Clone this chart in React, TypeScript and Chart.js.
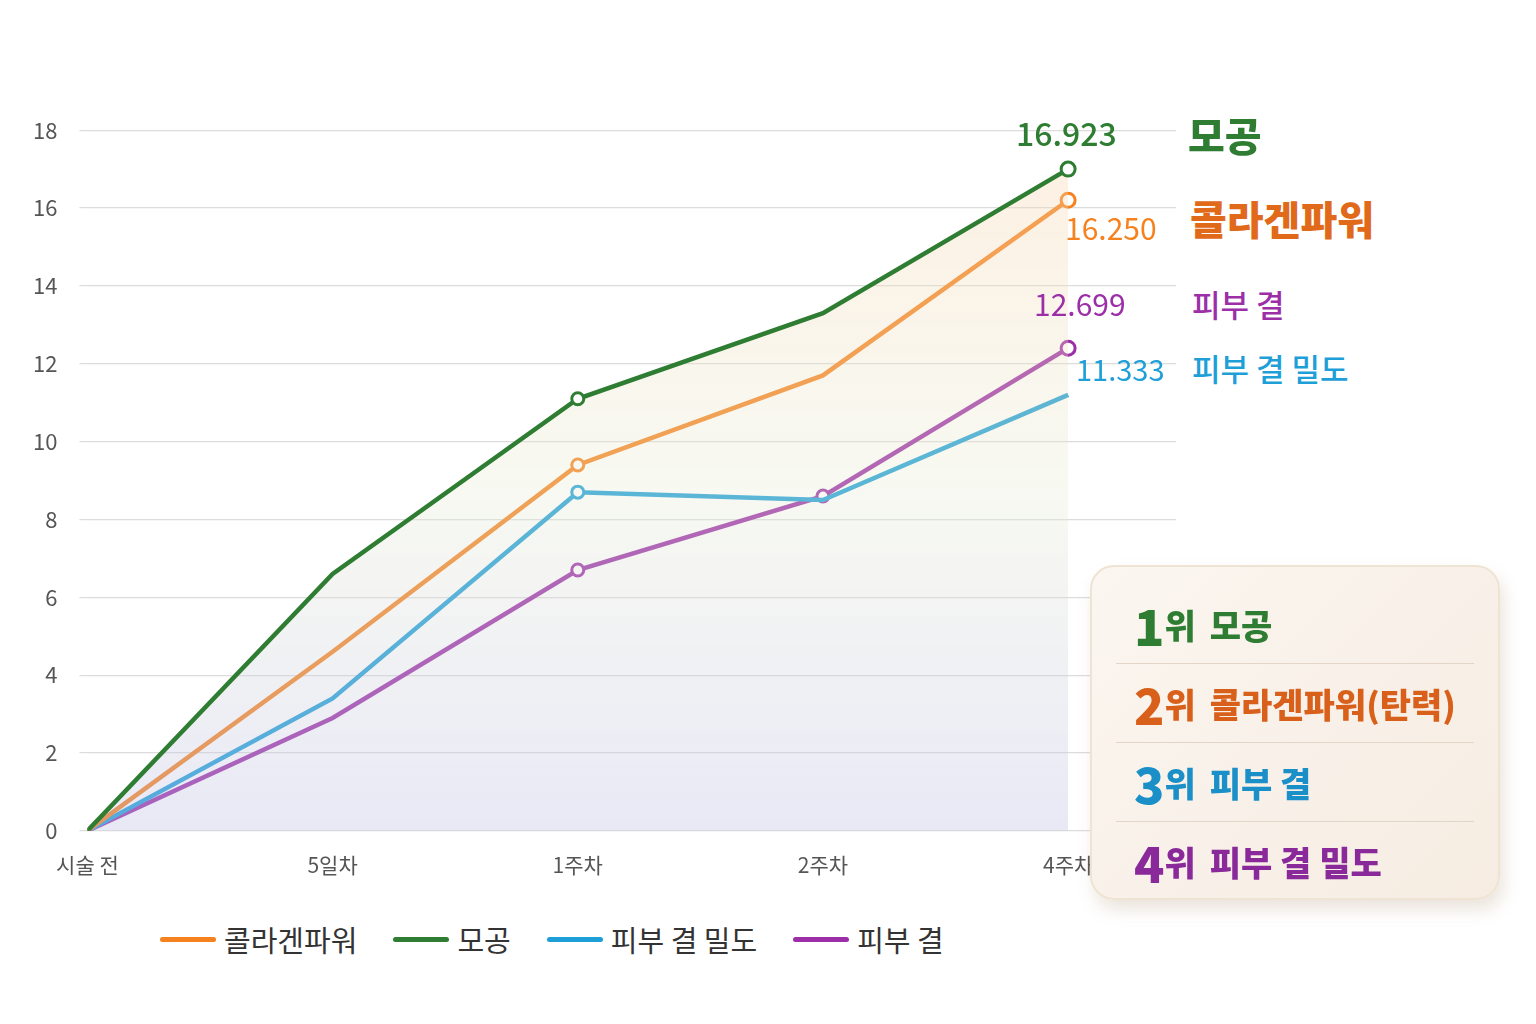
import React, { useEffect, useRef } from "react";
import { Chart, registerables } from "chart.js";
Chart.register(...registerables);

const categories = ["시술 전", "5일차", "1주차", "2주차", "4주차"];
const pore = [0, 6.6, 11.1, 13.3, 17.0];
const collagen = [0, 4.6, 9.4, 11.7, 16.2];
const density = [0, 3.4, 8.7, 8.5, 11.2];
const texture = [0, 2.9, 6.7, 8.6, 12.4];
const yTicks = [0, 2, 4, 6, 8, 10, 12, 14, 16, 18];

const GREEN = "#2e7d32", ORANGE = "#f5821f", BLUE = "#1e9fd8", PURPLE = "#9c2fa8";
const font = "'Noto Sans CJK KR', 'Noto Sans', sans-serif";

export default function App() {
  const ref = useRef<HTMLCanvasElement>(null);
  useEffect(() => {
    const ctx = ref.current!.getContext("2d")!;
    const ds = (label: string, data: number[], color: string, radius: number[], fill: any = false, bg: any = "transparent") => ({
      label, data: data.map((y, i) => ({ x: i, y })), borderColor: color, borderWidth: 4.5,
      pointRadius: radius, pointBackgroundColor: "#fff", pointBorderColor: color, pointBorderWidth: 3,
      fill, backgroundColor: bg, tension: 0,
    });
    const grad = ctx.createLinearGradient(0, 40, 0, 740);
    grad.addColorStop(0, "rgba(250,210,170,0.35)");
    grad.addColorStop(0.5, "rgba(230,235,210,0.3)");
    grad.addColorStop(1, "rgba(190,190,230,0.35)");
    const chart = new Chart(ctx, {
      type: "line",
      data: {
        datasets: [
          ds("모공", pore, GREEN, [0, 0, 6, 0, 7], "origin", grad),
          ds("콜라겐파워", collagen, ORANGE, [0, 0, 6, 0, 7]),
          ds("피부 결 밀도", density, BLUE, [0, 0, 6, 0, 0]),
          ds("피부 결", texture, PURPLE, [0, 0, 6, 6, 7]),
        ],
      },
      options: {
        animation: false, responsive: false,
        plugins: { legend: { display: false }, tooltip: { enabled: false } },
        scales: {
          x: {
            type: "linear", min: 0, max: 4.44,
            afterBuildTicks: (a: any) => { a.ticks = categories.map((_, i) => ({ value: i })); },
            ticks: { callback: (v: any) => categories[v] ?? "", color: "#555", font: { family: font, size: 21 }, padding: 14 },
            grid: { display: false }, border: { display: false },
          },
          y: {
            min: 0, max: 18,
            afterBuildTicks: (a: any) => { a.ticks = yTicks.map((v) => ({ value: v })); },
            ticks: { color: "#555", font: { family: font, size: 22 }, padding: 22 },
            grid: { color: "#dcdcdc", lineWidth: 1.2 }, border: { display: false },
          },
        },
      },
    });
    return () => chart.destroy();
  }, []);

  const abs = (x: number, y: number, color: string, size: number, weight: number, text: string) => (
    <div style={{ position: "absolute", left: x, top: y, color, fontSize: size, fontWeight: weight, whiteSpace: "nowrap", lineHeight: 1 }}>{text}</div>
  );
  const legend = [["콜라겐파워", ORANGE], ["모공", GREEN], ["피부 결 밀도", BLUE], ["피부 결", PURPLE]];
  const ranks: [string, string, string][] = [["1", "모공", GREEN], ["2", "콜라겐파워(탄력)", "#d8601a"], ["3", "피부 결", "#1a8fc8"], ["4", "피부 결 밀도", "#8a2a9a"]];

  return (
    <div style={{ position: "relative", width: 1536, height: 1024, margin: -8, background: "#fff", fontFamily: font, overflow: "hidden" }}>
      <canvas ref={ref} width={1175} height={797} style={{ position: "absolute", left: 11, top: 95 }} />
      {abs(1016, 116, GREEN, 32, 500, "16.923")}
      {abs(1065, 212, ORANGE, 30, 400, "16.250")}
      {abs(1034, 288, PURPLE, 30, 400, "12.699")}
      {abs(1076, 354, BLUE, 29, 400, "11.333")}
      {abs(1188, 114, GREEN, 40, 800, "모공")}
      {abs(1190, 198, "#e06a1a", 40, 800, "콜라겐파워")}
      {abs(1192, 288, PURPLE, 31, 500, "피부  결")}
      {abs(1192, 352, BLUE, 31, 500, "피부  결  밀도")}
      <div style={{ position: "absolute", left: 160, top: 918, display: "flex", gap: 36, fontSize: 29, color: "#333" }}>
        {legend.map(([t, c]) => (
          <div key={t} style={{ display: "flex", alignItems: "center", gap: 8 }}>
            <div style={{ width: 56, height: 5, background: c, borderRadius: 3 }} />{t}
          </div>
        ))}
      </div>
      <div style={{ position: "absolute", left: 1090, top: 565, width: 410, height: 335, borderRadius: 24, background: "linear-gradient(135deg,#fbf6f0,#f6ece2)", border: "2px solid #efe3d3", boxShadow: "4px 10px 16px rgba(180,150,120,0.25)", padding: "18px 24px 0 24px", boxSizing: "border-box" }}>
        {ranks.map(([n, t, c], i) => (
          <div key={n} style={{ height: 78, display: "flex", alignItems: "center", borderBottom: i < 3 ? "1px solid #e3d6c8" : "none", color: c, fontWeight: 800, paddingLeft: 18 }}>
            <span style={{ fontSize: 50 }}>{n}</span><span style={{ fontSize: 34, marginRight: 14 }}>위</span><span style={{ fontSize: 34 }}>{t}</span>
          </div>
        ))}
      </div>
    </div>
  );
}
